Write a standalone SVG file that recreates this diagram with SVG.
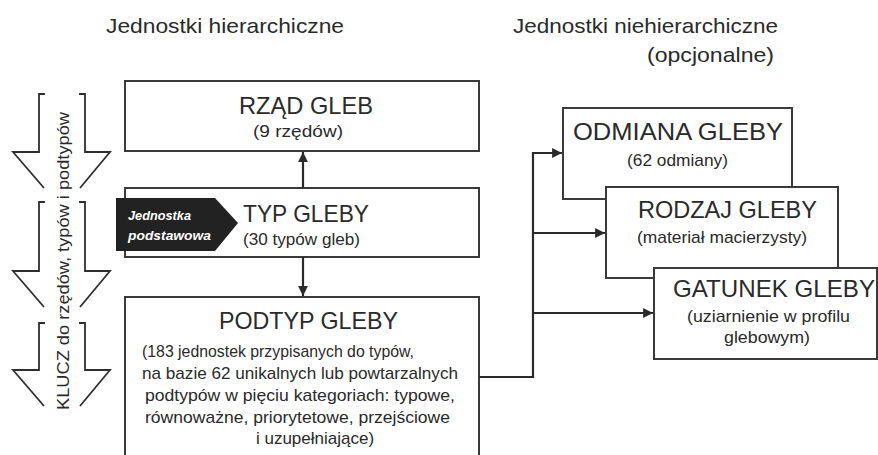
<svg xmlns="http://www.w3.org/2000/svg" width="878" height="455" viewBox="0 0 878 455">
<style>
text{font-family:"Liberation Sans",Arial,sans-serif;fill:#2a2a2a}
.box{fill:#fff;stroke:#3a3a3a;stroke-width:2}
.title{font-size:24px}
.sub{font-size:17px}
.head{font-size:21px}
.conn{fill:none;stroke:#2a2a2a;stroke-width:2.2}
.key{fill:none;stroke:#2e2e2e;stroke-width:1.8;stroke-linejoin:miter}
.badge{font-size:13px;font-weight:bold;font-style:italic;fill:#fff}
</style>
<defs>
<marker id="ah" viewBox="0 0 10 10" refX="10" refY="5" markerWidth="4.5" markerHeight="4.5" orient="auto" markerUnits="strokeWidth">
<path d="M0,0 L10,5 L0,10 z" fill="#2a2a2a"/>
</marker>
</defs>
<rect width="878" height="455" fill="#fff"/>

<g id="headers">
<text class="head" x="106" y="33" textLength="238" lengthAdjust="spacingAndGlyphs">Jednostki hierarchiczne</text>
<text class="head" x="513" y="33" textLength="265" lengthAdjust="spacingAndGlyphs">Jednostki niehierarchiczne</text>
<text class="head" x="647" y="62" textLength="127" lengthAdjust="spacingAndGlyphs">(opcjonalne)</text>
</g>

<g id="key">
<polyline class="key" points="45,94 39,94 39,152 13,152 44,188"/>
<polyline class="key" points="79,94 85,94 85,152 110,152 80,188"/>
<polyline class="key" points="45,202 39,202 39,271 13,271 44,307"/>
<polyline class="key" points="79,202 85,202 85,271 110,271 80,307"/>
<polyline class="key" points="45,323 39,323 39,370 13,370 44,406"/>
<polyline class="key" points="79,323 85,323 85,370 110,370 80,406"/>
<text class="sub" transform="translate(69,261) rotate(-90)" text-anchor="middle" textLength="298" lengthAdjust="spacingAndGlyphs">KLUCZ do rzędów, typów i podtypów</text>
</g>

<g id="rzad">
<rect class="box" x="125" y="81" width="354" height="70"/>
<text class="title" x="239" y="114" textLength="134" lengthAdjust="spacingAndGlyphs">RZĄD GLEB</text>
<text class="sub" x="253" y="137" textLength="90" lengthAdjust="spacingAndGlyphs">(9 rzędów)</text>
</g>

<g id="typ">
<rect class="box" x="125" y="188" width="354" height="69"/>
<polygon points="116,198 215,198 238,223 215,251 116,251" fill="#222"/>
<text class="badge" x="128" y="220" textLength="63" lengthAdjust="spacingAndGlyphs">Jednostka</text>
<text class="badge" x="128" y="240" textLength="83" lengthAdjust="spacingAndGlyphs">podstawowa</text>
<text class="title" x="243" y="222" textLength="126" lengthAdjust="spacingAndGlyphs">TYP GLEBY</text>
<text class="sub" x="243" y="245" textLength="117" lengthAdjust="spacingAndGlyphs">(30 typów gleb)</text>
</g>

<g id="podtyp">
<rect class="box" x="125" y="297" width="354" height="175"/>
<text class="title" x="219" y="329" textLength="179" lengthAdjust="spacingAndGlyphs">PODTYP GLEBY</text>
<text class="sub" x="142" y="357" textLength="272" lengthAdjust="spacingAndGlyphs">(183 jednostek przypisanych do typów,</text>
<text class="sub" x="142" y="379" textLength="316" lengthAdjust="spacingAndGlyphs">na bazie 62 unikalnych lub powtarzalnych</text>
<text class="sub" x="145" y="401" textLength="310" lengthAdjust="spacingAndGlyphs">podtypów w pięciu kategoriach: typowe,</text>
<text class="sub" x="145" y="423" textLength="305" lengthAdjust="spacingAndGlyphs">równoważne, priorytetowe, przejściowe</text>
<text class="sub" x="315" y="444" text-anchor="middle">i uzupełniające)</text>
</g>

<g id="odmiana">
<rect class="box" x="563" y="108" width="229" height="91"/>
<text class="title" x="573" y="140" textLength="210" lengthAdjust="spacingAndGlyphs">ODMIANA GLEBY</text>
<text class="sub" x="627" y="166" textLength="101" lengthAdjust="spacingAndGlyphs">(62 odmiany)</text>
</g>

<g id="rodzaj">
<rect class="box" x="606" y="187" width="232" height="91"/>
<text class="title" x="638" y="218" textLength="179" lengthAdjust="spacingAndGlyphs">RODZAJ GLEBY</text>
<text class="sub" x="637" y="243" textLength="170" lengthAdjust="spacingAndGlyphs">(materiał macierzysty)</text>
</g>

<g id="gatunek">
<rect class="box" x="654" y="268" width="223" height="91"/>
<text class="title" x="673" y="297" textLength="202" lengthAdjust="spacingAndGlyphs">GATUNEK GLEBY</text>
<text class="sub" x="687" y="322" textLength="163" lengthAdjust="spacingAndGlyphs">(uziarnienie w profilu</text>
<text class="sub" x="724" y="343" textLength="86" lengthAdjust="spacingAndGlyphs">glebowym)</text>
</g>

<g id="connectors">
<line class="conn" x1="303" y1="188" x2="303" y2="152" marker-end="url(#ah)"/>
<line class="conn" x1="303" y1="257" x2="303" y2="296" marker-end="url(#ah)"/>
<polyline class="conn" points="479,377 533,377 533,153 562,153" marker-end="url(#ah)"/>
<line class="conn" x1="533" y1="233" x2="605" y2="233" marker-end="url(#ah)"/>
<line class="conn" x1="533" y1="313" x2="653" y2="313" marker-end="url(#ah)"/>
</g>
</svg>
